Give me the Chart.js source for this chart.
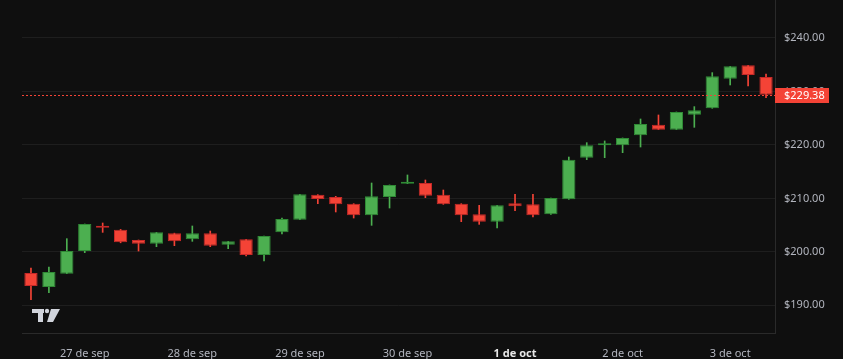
<!DOCTYPE html>
<html>
<head>
<meta charset="utf-8">
<script src="https://cdn.jsdelivr.net/npm/chart.js@4/dist/chart.umd.min.js"></script>
<style>
    html, body { margin: 0; padding: 0; background: #0f0f0f; }
    #wrap { width: 843px; height: 359px; position: relative; }
</style>
</head>
<body>
<div id="wrap"><canvas id="chart"></canvas></div>
<script>
// 4h candles, 26 sep 12:00 -> 3 oct 08:00
const times = [
    '26/09 12:00', '26/09 16:00', '26/09 20:00',
    '27/09 00:00', '27/09 04:00', '27/09 08:00', '27/09 12:00', '27/09 16:00', '27/09 20:00',
    '28/09 00:00', '28/09 04:00', '28/09 08:00', '28/09 12:00', '28/09 16:00', '28/09 20:00',
    '29/09 00:00', '29/09 04:00', '29/09 08:00', '29/09 12:00', '29/09 16:00', '29/09 20:00',
    '30/09 00:00', '30/09 04:00', '30/09 08:00', '30/09 12:00', '30/09 16:00', '30/09 20:00',
    '01/10 00:00', '01/10 04:00', '01/10 08:00', '01/10 12:00', '01/10 16:00', '01/10 20:00',
    '02/10 00:00', '02/10 04:00', '02/10 08:00', '02/10 12:00', '02/10 16:00', '02/10 20:00',
    '03/10 00:00', '03/10 04:00', '03/10 08:00'
];
const open = [
    196.05, 193.43, 195.92, 200.16, 204.84, 204.15, 202.22, 201.53, 203.47, 202.34,
    203.47, 201.35, 202.34, 199.41, 203.65, 206.02, 210.70, 210.26, 209.01, 206.83,
    210.26, 212.76, 212.88, 210.70, 209.01, 207.02, 205.65, 209.08, 208.89, 207.02,
    209.83, 217.62, 219.93, 219.93, 221.80, 223.79, 222.86, 225.66, 226.85, 232.39,
    234.89, 232.71
];
const high = [
    196.98, 197.17, 202.47, 205.21, 205.40, 204.20, 202.22, 203.65, 203.50, 204.84,
    203.90, 201.97, 202.34, 202.97, 206.33, 210.76, 210.70, 210.39, 209.01, 212.88,
    212.51, 214.38, 213.44, 211.57, 209.01, 208.70, 208.70, 210.76, 210.76, 210.07,
    217.74, 220.42, 220.74, 221.30, 224.85, 225.60, 226.16, 227.16, 233.52, 234.70,
    234.89, 233.27
];
const low = [
    191.06, 192.37, 195.92, 199.85, 203.65, 201.70, 200.16, 200.97, 201.16, 201.97,
    200.97, 200.60, 199.23, 198.29, 203.34, 206.02, 209.01, 207.46, 206.33, 204.96,
    208.20, 212.76, 210.14, 208.89, 205.65, 205.15, 204.46, 207.71, 206.52, 207.02,
    209.83, 217.24, 217.62, 218.55, 219.61, 222.86, 222.86, 223.29, 226.85, 231.21,
    231.02, 228.84
];
const close = [
    193.62, 196.23, 200.16, 205.21, 204.53, 201.78, 201.53, 203.65, 201.97, 203.47,
    201.16, 201.97, 199.41, 202.97, 206.15, 210.76, 209.89, 208.89, 206.83, 210.39,
    212.51, 212.94, 210.51, 208.89, 206.83, 205.65, 208.70, 208.52, 206.83, 210.07,
    217.24, 219.93, 220.30, 221.30, 223.92, 222.86, 226.16, 226.47, 232.83, 234.70,
    233.08, 229.38
];
const tickDates = ['27/09', '28/09', '29/09', '30/09', '01/10', '02/10', '03/10'];
const tickLabels = ['27 de sep', '28 de sep', '29 de sep', '30 de sep', '1 de oct', '2 de oct', '3 de oct'];
const yTicks = [190, 200, 210, 220, 230, 240];
const lastPrice = 229.38;

const UP = '#4caf50', DOWN = '#f44336';
const UP_EDGE = '#2f8a35', DOWN_EDGE = '#c62828';
const isUp = (i) => close[i] >= open[i];

const bgPlugin = {
    id: 'bg',
    beforeDraw(chart) {
        const ctx = chart.ctx;
        ctx.save();
        ctx.fillStyle = '#0f0f0f';
        ctx.fillRect(0, 0, chart.width, chart.height);
        ctx.restore();
    },
    afterDraw(chart) {
        const ctx = chart.ctx;
        const y = chart.scales.y.getPixelForValue(lastPrice);
        const area = chart.chartArea;
        ctx.save();
        // last price dotted line
        ctx.strokeStyle = DOWN;
        ctx.lineWidth = 1;
        ctx.setLineDash([2, 2]);
        ctx.beginPath();
        ctx.moveTo(area.left, Math.round(y) + 0.5);
        ctx.lineTo(area.right, Math.round(y) + 0.5);
        ctx.stroke();
        ctx.setLineDash([]);
        // price badge
        ctx.fillStyle = DOWN;
        ctx.fillRect(area.right, Math.round(y) - 7, 54, 15);
        ctx.fillStyle = '#ffffff';
        ctx.font = "11px 'Noto Sans', sans-serif";
        ctx.textBaseline = 'middle';
        ctx.textAlign = 'left';
        ctx.fillText('$' + lastPrice.toFixed(2), area.right + 9, Math.round(y) + 0.5);
        // TV logo
        ctx.fillStyle = '#d1d4dc';
        ctx.fillRect(32, 309, 12, 4);
        ctx.fillRect(38, 309, 5, 13);
        ctx.beginPath();
        ctx.arc(47, 311, 2.2, 0, Math.PI * 2);
        ctx.fill();
        ctx.beginPath();
        ctx.moveTo(51, 309);
        ctx.lineTo(60, 309);
        ctx.lineTo(53, 322);
        ctx.lineTo(47, 322);
        ctx.closePath();
        ctx.fill();
        ctx.restore();
    }
};

Chart.defaults.font.family = "'Noto Sans', sans-serif";
Chart.defaults.font.size = 11;

new Chart(document.getElementById('chart'), {
    type: 'bar',
    data: {
        labels: times,
        datasets: [
            {
                // bodies
                data: times.map((t, i) => [Math.min(open[i], close[i]), Math.max(open[i], close[i])]),
                backgroundColor: times.map((t, i) => isUp(i) ? UP : DOWN),
                borderColor: times.map((t, i) => isUp(i) ? UP_EDGE : DOWN_EDGE),
                borderWidth: 1,
                borderSkipped: false,
                barPercentage: 0.74,
                categoryPercentage: 1,
                minBarLength: 2,
                grouped: false,
                order: 0
            },
            {
                // wicks
                data: times.map((t, i) => [low[i], high[i]]),
                backgroundColor: times.map((t, i) => isUp(i) ? UP : DOWN),
                barThickness: 1,
                grouped: false,
                order: 1
            }
        ]
    },
    options: {
        responsive: true,
        maintainAspectRatio: false,
        animation: false,
        layout: { padding: { left: 22, top: 0, right: 0, bottom: 0 } },
        plugins: {
            legend: { display: false },
            tooltip: { enabled: false }
        },
        scales: {
            x: {
                grid: { display: false },
                border: { display: true, color: '#2a2a2a' },
                ticks: {
                    autoSkip: false,
                    maxRotation: 0,
                    padding: 6,
                    callback: (val, idx) => {
                        const [d, h] = times[idx].split(' ');
                        const k = tickDates.indexOf(d);
                        return (h === '00:00' && k >= 0) ? tickLabels[k] : null;
                    },
                    color: (c) => c.tick && c.tick.label === '1 de oct' ? '#e6e6e6' : '#b2b5be',
                    font: (c) => ({ size: 11, weight: c.tick && c.tick.label === '1 de oct' ? 'bold' : 'normal' })
                },
                afterFit: (s) => { s.height = 26; s.paddingLeft = 0; s.paddingRight = 0; }
            },
            y: {
                position: 'right',
                min: 184.83,
                max: 247.1,
                grid: { color: '#1e1e1e', drawTicks: false },
                border: { display: true, color: '#2a2a2a' },
                ticks: {
                    padding: 9,
                    color: '#b2b5be',
                    callback: (v) => '$' + v.toFixed(2)
                },
                afterBuildTicks: (s) => { s.ticks = yTicks.map(v => ({ value: v })); },
                afterFit: (s) => { s.width = 68; s.paddingTop = 0; s.paddingBottom = 0; }
            }
        }
    },
    plugins: [bgPlugin]
});
</script>
</body>
</html>
